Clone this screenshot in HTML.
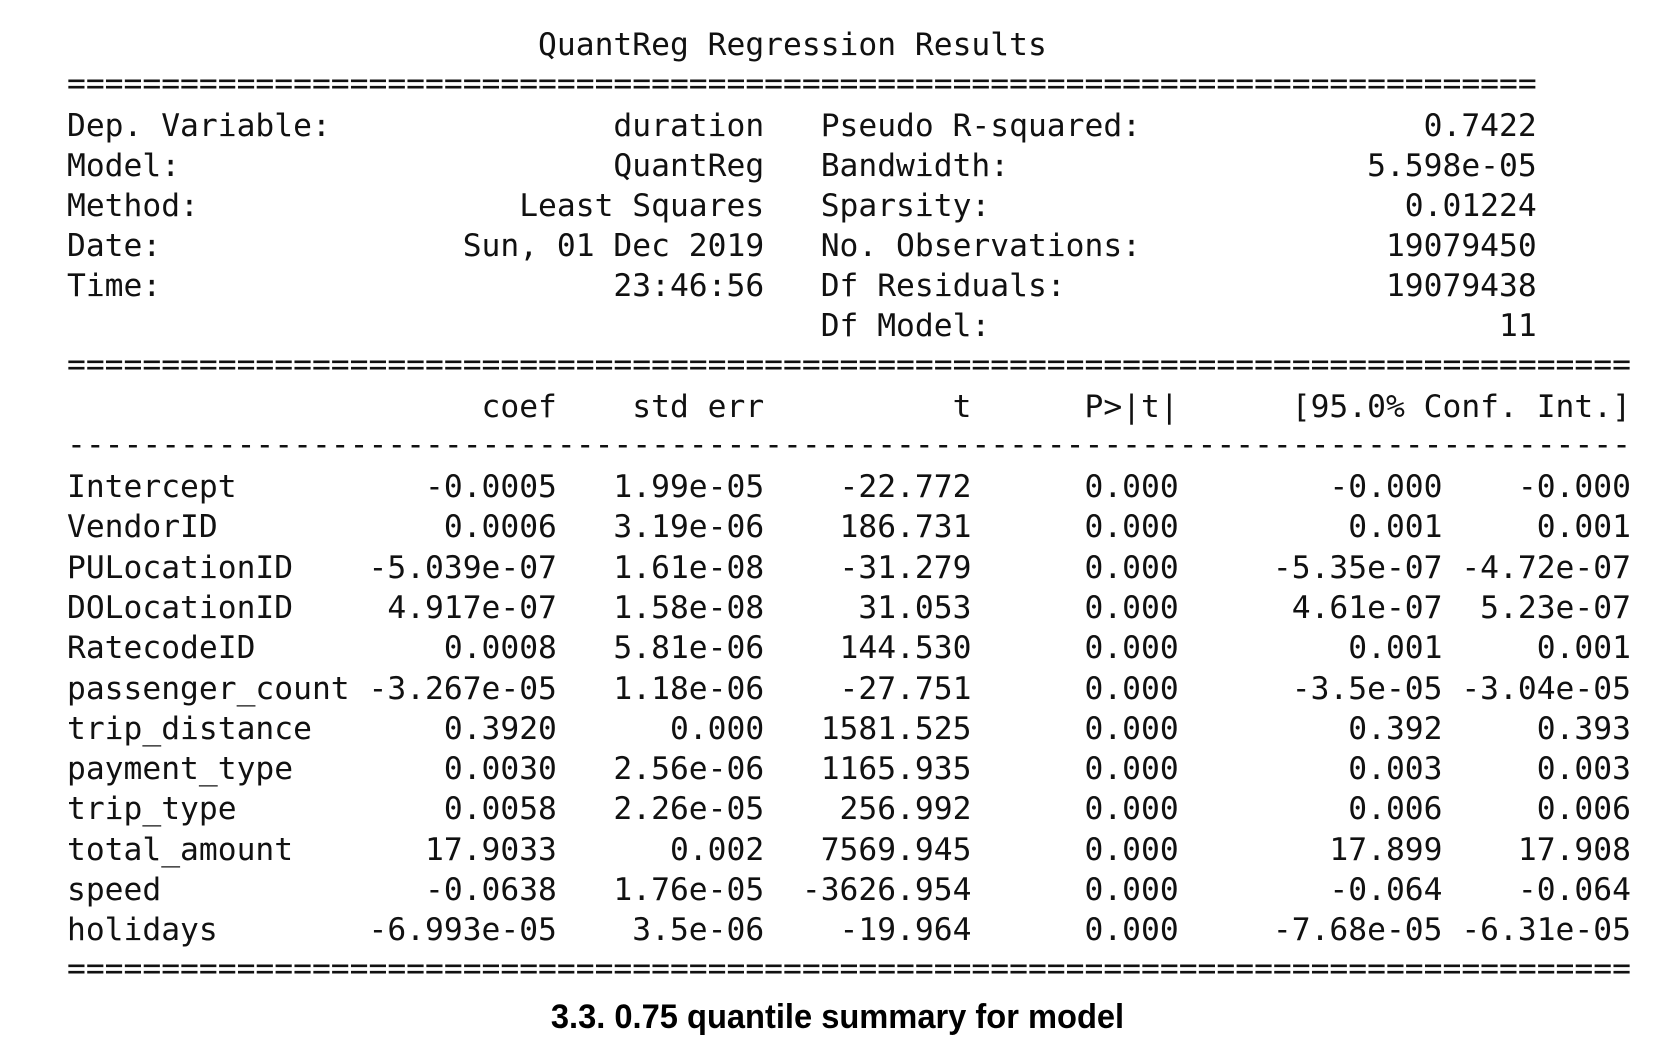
<!DOCTYPE html>
<html><head><meta charset="utf-8">
<style>
html,body{margin:0;padding:0;background:#fff;}
#page{position:relative;width:1675px;height:1054px;overflow:hidden;background:#fff;}
.ln{position:absolute;left:67px;margin:0;white-space:pre;font-family:"DejaVu Sans Mono","Liberation Mono",monospace;font-size:31.3px;line-height:40px;height:40px;color:#111;}
#caption{position:absolute;left:0;width:1675px;top:998px;text-align:center;font-family:"Liberation Sans Narrow","Liberation Sans",sans-serif;font-weight:bold;font-size:34px;color:#000;transform:scaleX(0.96);}
</style></head>
<body>
<div id="page">
<div id="caption">3.3. 0.75 quantile summary for model</div>
</div>
<script>
const infoLeftLabels=["Dep. Variable:","Model:","Method:","Date:","Time:",""];
const infoLeftValues=["duration","QuantReg","Least Squares","Sun, 01 Dec 2019","23:46:56",""];
const infoRightLabels=["Pseudo R-squared:","Bandwidth:","Sparsity:","No. Observations:","Df Residuals:","Df Model:"];
const infoRightValues=["0.7422","5.598e-05","0.01224","19079450","19079438","11"];
const varNames=["Intercept","VendorID","PULocationID","DOLocationID","RatecodeID","passenger_count","trip_distance","payment_type","trip_type","total_amount","speed","holidays"];
const coefs=["-0.0005","0.0006","-5.039e-07","4.917e-07","0.0008","-3.267e-05","0.3920","0.0030","0.0058","17.9033","-0.0638","-6.993e-05"];
const stdErrs=["1.99e-05","3.19e-06","1.61e-08","1.58e-08","5.81e-06","1.18e-06","0.000","2.56e-06","2.26e-05","0.002","1.76e-05","3.5e-06"];
const tVals=["-22.772","186.731","-31.279","31.053","144.530","-27.751","1581.525","1165.935","256.992","7569.945","-3626.954","-19.964"];
const pVals=["0.000","0.000","0.000","0.000","0.000","0.000","0.000","0.000","0.000","0.000","0.000","0.000"];
const ciLow=["-0.000","0.001","-5.35e-07","4.61e-07","0.001","-3.5e-05","0.392","0.003","0.006","17.899","-0.064","-7.68e-05"];
const ciHigh=["-0.000","0.001","-4.72e-07","5.23e-07","0.001","-3.04e-05","0.393","0.003","0.006","17.908","-0.064","-6.31e-05"];

const page=document.getElementById('page');
function L(s,n){return (s+' '.repeat(n)).slice(0,Math.max(n,s.length));}
function R(s,n){return s.length>=n?s:' '.repeat(n-s.length)+s;}
function addLine(text,cy,name){
  const d=document.createElement('div');
  d.className='ln';
  d.style.top=(cy-20)+'px';
  d.textContent=text;
  
  
  page.appendChild(d);
}
addLine(' '.repeat(25)+'QuantReg Regression Results',45,'table-title');
addLine('='.repeat(78),84,'top-rule');
const topY=[126,166,206,246,286,326];
for(let i=0;i<infoLeftLabels.length;i++){
  const left=L(infoLeftLabels[i],37-infoLeftValues[i].length)+infoLeftValues[i];
  const right=L(infoRightLabels[i],38-infoRightValues[i].length)+infoRightValues[i];
  addLine(L(left,40)+right,topY[i],'info-row-'+i);
}
addLine('='.repeat(83),365,'mid-rule');
addLine(R('coef',26)+R('std err',11)+R('t',11)+R('P>|t|',11)+R('[95.0% Conf. Int.]',24),407,'column-header');
addLine('-'.repeat(83),445,'dash-rule');
for(let i=0;i<varNames.length;i++){
  const s=L(varNames[i],15).slice(0,Math.max(15,varNames[i].length));
  let line=s+R(coefs[i],26-s.length)+R(stdErrs[i],11)+R(tVals[i],11)+R(pVals[i],11)+R(ciLow[i],14)+R(ciHigh[i],10);
  addLine(line,487+i*40.3,'coef-row-'+varNames[i].replace(/_/g,'-').toLowerCase());
}
addLine('='.repeat(83),969,'bottom-rule');
</script>
</body></html>
